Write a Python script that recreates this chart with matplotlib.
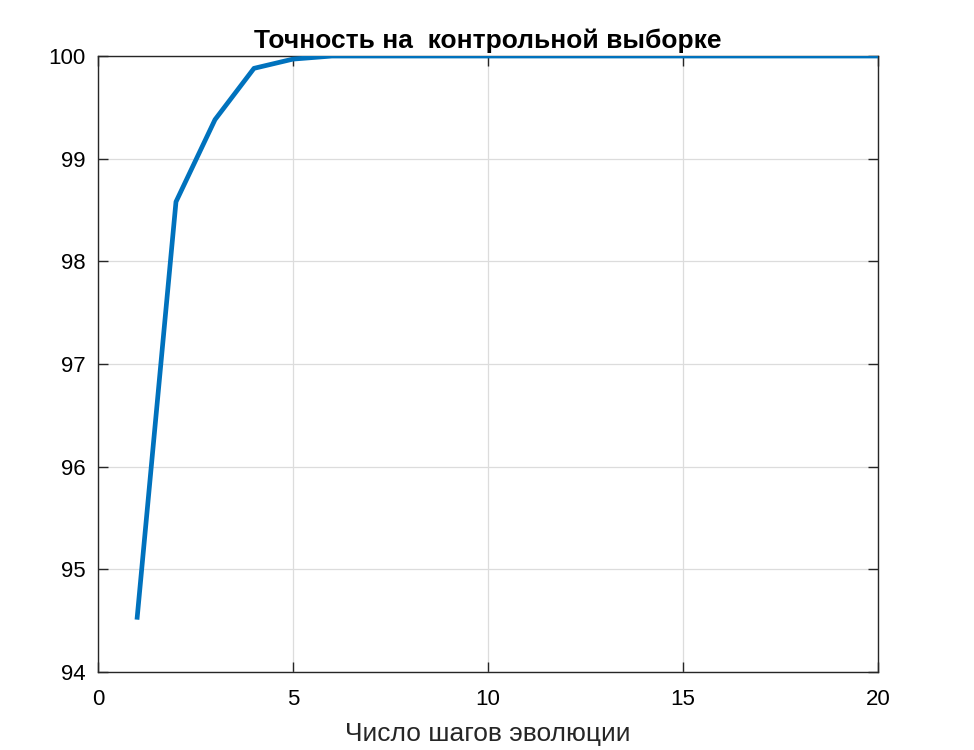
import matplotlib.pyplot as plt

plt.rcParams['font.family'] = ['Liberation Sans', 'DejaVu Sans']

steps = list(range(1, 21))
accuracy = [94.51, 98.58, 99.38, 99.88, 99.97, 100.0, 100.0, 100.0, 100.0, 100.0,
            100.0, 100.0, 100.0, 100.0, 100.0, 100.0, 100.0, 100.0, 100.0, 100.0]
xticks = [0, 5, 10, 15, 20]
yticks = [94, 95, 96, 97, 98, 99, 100]

fig = plt.figure(figsize=(9.74, 7.5), dpi=100)
ax = fig.add_axes([0.1006, 0.104, 0.8008, 0.8213])

ax.plot(steps, accuracy, color="#0072BD", linewidth=3.4, solid_capstyle="butt", zorder=3)

ax.set_xlim(0, 20)
ax.set_ylim(94, 100)
ax.set_xticks(xticks)
ax.set_yticks(yticks)
ax.grid(True, color="#dcdcdc", linewidth=0.9)
ax.set_axisbelow(True)
ax.tick_params(direction="in", top=True, right=True, length=7, width=1,
               labelsize=16, color="#262626")
ax.tick_params(axis="x", pad=12)
ax.tick_params(axis="y", pad=9)
for s in ax.spines.values():
    s.set_color("#262626")
    s.set_linewidth(1.0)

ax.set_title("Точность на  контрольной выборке", fontsize=19, fontweight="bold", pad=6)
ax.set_xlabel("Число шагов эволюции", fontsize=19, color="#262626", labelpad=9)

fig.savefig("out.png", dpi=100)
